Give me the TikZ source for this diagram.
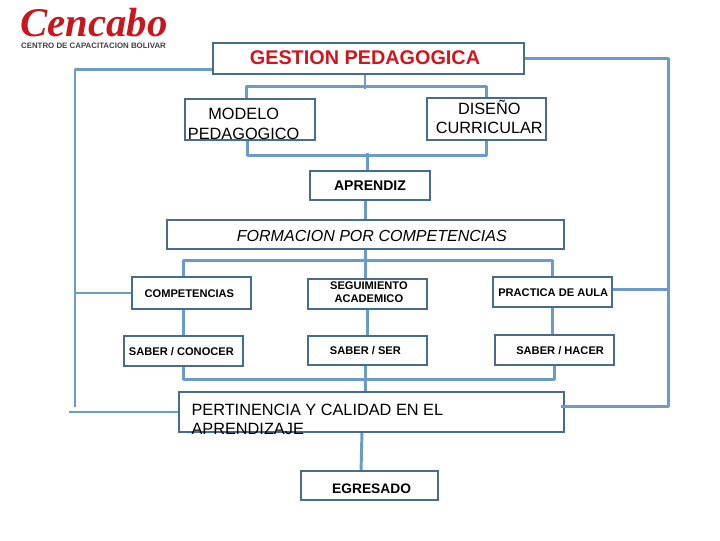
\documentclass[tikz,border=0pt]{standalone}
\usepackage{fontspec}
\setmainfont{Liberation Sans}
\newfontfamily\logofont{Liberation Serif}
\usetikzlibrary{positioning}
\definecolor{linkblue}{HTML}{6A9BC9}
\definecolor{edgeblue}{HTML}{4A6C8C}
\definecolor{titlered}{HTML}{D2141C}
\definecolor{logored}{HTML}{C8161E}
% text inside a box, moved from the middle of the box
\newcommand{\boxtxt}[4][c]{\raisebox{#3}[0pt][0pt]{\makebox[0pt]{\hspace*{#2}\begin{tabular}{@{}#1@{}}#4\end{tabular}\hspace*{-#2}}}}
\tikzset{
	flowbox/.style={draw=edgeblue, line width=1.5pt, rectangle, inner sep=0pt, fill=none},
	link/.style={draw=linkblue, line width=2.1pt, line join=round},
	bigtxt/.style={font=\fontsize{11.6}{14}\selectfont},
	smalltxt/.style={font=\fontsize{7.9}{9.4}\selectfont\bfseries},
	midtxt/.style={font=\fontsize{10}{12}\selectfont\bfseries}
}
\begin{document}
\begin{tikzpicture}[x=0.025cm,y=-0.025cm]
	\useasboundingbox (0,0) rectangle (720,540);
	
	% Logo
	\node[text=logored, font=\logofont\fontsize{29}{29}\selectfont\bfseries\itshape, inner sep=0pt] (logo) at (94,22.5) {Cencabo};
	\node[text=black!75, font=\fontsize{5.6}{5.6}\selectfont\bfseries, inner sep=0pt] (logotxt) at (93.5,46) {CENTRO DE CAPACITACION BOLIVAR};
	
	% Boxes
	\node[flowbox, minimum width=7.775cm, minimum height=0.775cm, text=titlered, font=\fontsize{14.1}{16}\selectfont\bfseries] (gestion) at (368.5,58.5) {\boxtxt{-2.5pt}{-4.5pt}{GESTION PEDAGOGICA}};
	\node[flowbox, bigtxt, minimum width=3.25cm, minimum height=1.025cm] (modelo) at (250,119.5) {\boxtxt{-4.5pt}{-7.5pt}{MODELO\\PEDAGOGICO}};
	\node[flowbox, bigtxt, minimum width=2.975cm, minimum height=1.05cm] (diseno) at (486.5,119) {\boxtxt{2pt}{-3.5pt}{DISEÑO\\CURRICULAR}};
	\node[flowbox, midtxt, minimum width=3cm, minimum height=0.725cm] (aprendiz) at (370,185.5) {\boxtxt{0pt}{-3.5pt}{APRENDIZ}};
	\node[flowbox, minimum width=9.925cm, minimum height=0.725cm, font=\fontsize{11.4}{14}\selectfont\itshape] (formacion) at (365.5,234.5) {\boxtxt{4.5pt}{-5pt}{FORMACION POR COMPETENCIAS}};
	
	\node[flowbox, smalltxt, minimum width=2.975cm, minimum height=0.8cm] (competencias) at (191.5,293) {\boxtxt{-1.5pt}{-3pt}{COMPETENCIAS}};
	\node[flowbox, smalltxt, minimum width=2.975cm, minimum height=0.75cm] (seguimiento) at (367.5,294) {\boxtxt{1pt}{-1.5pt}{SEGUIMIENTO\\ACADEMICO}};
	\node[flowbox, smalltxt, minimum width=2.975cm, minimum height=0.75cm] (practica) at (552.5,292) {\boxtxt{0.5pt}{-3pt}{PRACTICA DE AULA}};
	
	\node[flowbox, smalltxt, minimum width=2.975cm, minimum height=0.75cm] (conocer) at (183.5,351) {\boxtxt{-1.5pt}{-3pt}{SABER / CONOCER}};
	\node[flowbox, smalltxt, minimum width=2.975cm, minimum height=0.725cm] (ser) at (367.5,350.5) {\boxtxt{-1.5pt}{-3pt}{SABER / SER}};
	\node[flowbox, smalltxt, minimum width=2.975cm, minimum height=0.75cm] (hacer) at (554.5,350) {\boxtxt{4pt}{-3pt}{SABER / HACER}};
	
	\node[flowbox, minimum width=9.625cm, minimum height=1cm, font=\fontsize{11.6}{14}\selectfont] (pertinencia) at (371.5,412) {\boxtxt[l]{-38.5pt}{-9.5pt}{PERTINENCIA Y CALIDAD EN EL\\APRENDIZAJE}};
	\node[flowbox, font=\fontsize{9.8}{12}\selectfont\bfseries, minimum width=3.425cm, minimum height=0.725cm] (egresado) at (369.5,485.5) {\boxtxt{1.5pt}{-5.5pt}{EGRESADO}};
	
	% Free ends
	\coordinate (leftend) at (75,407);
	\coordinate (pertend) at (69,412);
	
	% Outer frame
	\draw[link] ([yshift=-7.5pt]gestion.west) -| (leftend);
	\draw[link] (competencias.west) -- (competencias.west -| leftend);
	\draw[link] (pertinencia.west) -- (pertend);
	\draw[link] (gestion.east) -- ++(143,0) |- ([yshift=4pt,xshift=-3pt]pertinencia.east);
	\draw[link] ([yshift=1.5pt]practica.east) -- ++(55,0);
	
	% Upper links
	\draw[link] ([xshift=-2.5pt]gestion.south) -- ++(0,14);
	\draw[link] ([xshift=-2.5pt]modelo.north) -- ++(0,-11) -| (diseno.north);
	\draw[link] ([xshift=-1.5pt]modelo.south) -- ++(0,14) -| (diseno.south);
	\draw[link] ([xshift=-2pt]aprendiz.north) -- ++(0,-17);
	\draw[link] (aprendiz.south -| formacion.north) -- (formacion.north);
	
	% Middle links
	\draw[link] (formacion.south) -- (formacion.south |- seguimiento.north);
	\draw[link] (competencias.north -| conocer.north) -- ++(0,-15) -| (practica.north);
	\draw[link] (competencias.south -| conocer.north) -- (conocer.north);
	\draw[link] (seguimiento.south) -- (ser.north);
	\draw[link] (practica.south) -- (hacer.north -| practica.south);
	
	% Lower links
	\draw[link] (conocer.south) -- ++(0,12) -| (hacer.south);
	\draw[link] (ser.south -| formacion.south) -- (pertinencia.north -| formacion.south);
	\draw[link] ([xshift=-6.8pt]pertinencia.south) -- ([xshift=-6pt]egresado.north);
	
\end{tikzpicture}
\end{document}
